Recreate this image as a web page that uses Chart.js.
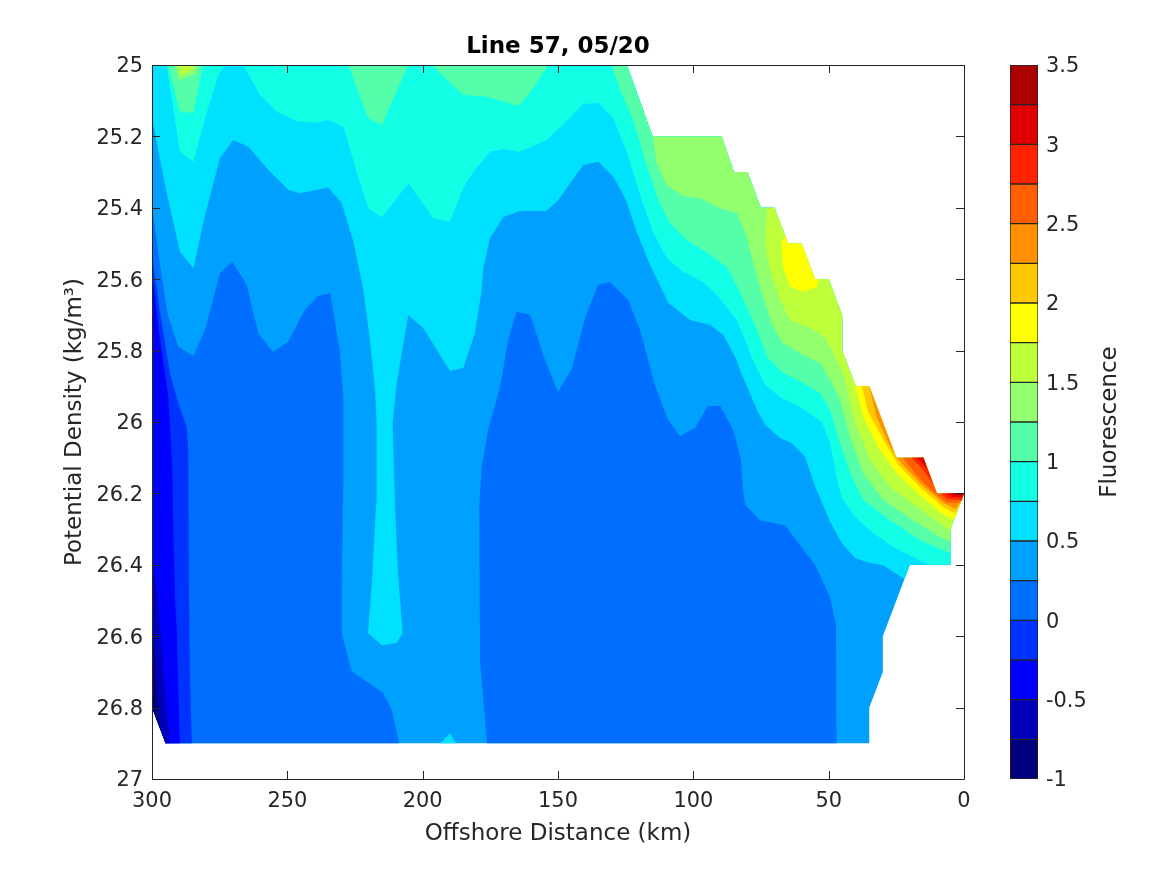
<!DOCTYPE html>
<html>
<head>
<meta charset="utf-8">
<style>
html,body{margin:0;padding:0;background:#fff;width:1167px;height:875px;overflow:hidden}
canvas{position:absolute;left:0;top:0}
</style>
<script src="https://cdn.jsdelivr.net/npm/chart.js@4"></script>
</head>
<body>
<canvas id="main" width="1167" height="875"></canvas>
<canvas id="bar" width="1167" height="875"></canvas>
<script>
const titleText = 'Line 57, 05/20';
const xLabel = 'Offshore Distance (km)';
const yLabel = 'Potential Density (kg/m³)';
const cbLabel = 'Fluorescence';
const xTicks = [300,250,200,150,100,50,0];
const yTicks = [25,25.2,25.4,25.6,25.8,26,26.2,26.4,26.6,26.8,27];
const cbTicks = [-1,-0.5,0,0.5,1,1.5,2,2.5,3,3.5];
const levels = [-1,-0.75,-0.5,-0.25,0,0.25,0.5,0.75,1,1.25,1.5,1.75,2,2.25,2.5,2.75,3,3.25,3.5];
const bandColors = ['#00007f','#0000bb','#0000ff','#0032ff','#006eff','#00a0ff','#00e1ff','#12ffe6','#55ffaa','#91ff6e','#beff3c','#ffff00','#ffc800','#ff9100','#ff5f00','#ff2300','#e10000','#aa0000'];

// Outer edge of the sampled section, (km, density)
const shelf = [[5,26.3],[0.9,26.22],[0,26.2],[10,26.2],[15,26.1],[25,26.1],[35,25.9],[40,25.9],[45,25.8],[45,25.7],[50,25.6],[55,25.6],[60,25.5],[65,25.5],[70,25.4],[75,25.4],[80,25.3],[85,25.3],[89.5,25.2],[115,25.2],[124.5,25]];
const hull = [[300,25],[124.5,25],[115,25.2],[89.5,25.2],[85,25.3],[80,25.3],[75,25.4],[70,25.4],[65,25.5],[60,25.5],[55,25.6],[50,25.6],[45,25.7],[45,25.8],[40,25.9],[35,25.9],[25,26.1],[15,26.1],[10,26.2],[0,26.2],[0.9,26.22],[5,26.3],[5,26.4],[20,26.4],[30,26.6],[30,26.7],[35,26.8],[35,26.9],[295,26.9],[300,26.8]];

// Contour outlines, (km, density)
const lowLeftBlob = [[300,25.398],[296.4,25.593],[294,25.705],[290.3,25.789],[284.7,25.815],[280.4,25.742],[274.9,25.583],[270.3,25.551],[265,25.616],[260.7,25.752],[255.3,25.804],[249.8,25.776],[243.5,25.686],[238.7,25.647],[234.2,25.639],[230.5,25.807],[229.3,25.93],[229.3,26.154],[229.9,26.471],[229.9,26.591],[226.2,26.699],[220.7,26.727],[214.5,26.76],[211.4,26.807],[208.7,26.9],[295,26.9],[300,26.8]];
const lowMidBlob = [[178.8,26.667],[179.1,26.237],[178.2,26.125],[175.8,26.022],[171.4,25.901],[168.4,25.77],[165.3,25.691],[160.3,25.7],[154.8,25.826],[150,25.916],[144.8,25.849],[140,25.709],[135.2,25.616],[130.8,25.608],[124.1,25.658],[119.7,25.742],[114.2,25.896],[109.4,25.994],[104.9,26.039],[99.4,26.017],[94.6,25.955],[90.1,25.955],[85.3,26.022],[82.4,26.106],[81.6,26.19],[80.9,26.232],[75.4,26.275],[66.1,26.289],[60.6,26.345],[55,26.401],[49.5,26.49],[47.3,26.569],[47.1,26.9],[176.2,26.9]];
const edgeBelow0 = [[300,25.532],[297,25.695],[293.4,25.863],[290.3,25.947],[287.2,26.014],[286.6,26.078],[286.3,26.499],[286,26.574],[286,26.695],[285.3,26.9],[295,26.9],[300,26.8]];
const edgeBelowM25 = [[300,25.58],[297,25.77],[294,25.93],[292.5,26.126],[292.1,26.311],[291.5,26.499],[290.9,26.574],[290.3,26.759],[289.7,26.9],[295,26.9],[300,26.8]];
const edgeBelowM50 = [[300,26.401],[298.9,26.434],[297.7,26.499],[296.7,26.611],[295.2,26.759],[293.4,26.9],[295,26.9],[300,26.8]];
const edgeBelowM75 = [[300,26.555],[298.9,26.667],[297.8,26.779],[296.7,26.866],[300,26.8]];

const above50Curve = [[22,26.44],[29.9,26.401],[34.7,26.395],[40.3,26.381],[45.2,26.339],[49.5,26.279],[55,26.181],[58.7,26.097],[63.7,26.059],[68,26.045],[73.5,26.008],[76.5,25.966],[82.8,25.854],[84,25.826],[88.9,25.756],[93.8,25.728],[101.2,25.714],[109.2,25.667],[116,25.56],[120.9,25.468],[125.2,25.373],[129.6,25.313],[135.1,25.271],[140.7,25.28],[149.9,25.378],[154.2,25.409],[164,25.409],[170.2,25.426],[175.1,25.485],[177.6,25.569],[178.2,25.63],[180.7,25.751],[185,25.849],[189.9,25.857],[199.8,25.737],[205.3,25.7],[209.6,25.891],[211.1,26.003],[210.2,26.238],[209.1,26.423],[207.4,26.591],[209.6,26.619],[215.1,26.625],[220.2,26.591],[218.8,26.451],[217.2,26.227],[217,26.003],[217.6,25.91],[219.5,25.77],[222,25.625],[225.6,25.495],[229.9,25.387],[234.9,25.343],[245.3,25.359],[249.6,25.35],[257.6,25.289],[264.4,25.229],[270,25.21],[274.9,25.261],[280.4,25.42],[284.7,25.569],[289.7,25.523],[295.2,25.336],[299.7,25.159],[300,25],[124.5,25]];
const above50Foot = [[193.6,26.9],[189.9,26.872],[187.7,26.9]];
const above75Finger = [[294.6,25],[289.7,25.243],[284.7,25.271],[280.4,25.149],[275.5,25.028],[273,25]];
const above75Curve = [[266.3,25],[260.1,25.084],[253.9,25.131],[246.5,25.157],[239.2,25.162],[234.9,25.154],[229.3,25.173],[224.4,25.299],[220.1,25.401],[215.1,25.427],[205.3,25.331],[196.1,25.429],[189.9,25.439],[185,25.345],[181.3,25.299],[175.1,25.243],[170.2,25.235],[164,25.243],[154.2,25.21],[149.3,25.176],[140.7,25.11],[135.2,25.106],[129.7,25.148],[124.6,25.243],[119.7,25.364],[114.9,25.468],[109.8,25.541],[103.7,25.58],[96.4,25.608],[91.3,25.644],[84,25.714],[79.8,25.79],[78,25.826],[73.5,25.896],[68,25.93],[60.6,25.958],[52.5,26],[49.5,26.059],[46.9,26.162],[45.1,26.213],[40.3,26.266],[33.6,26.311],[26.2,26.35],[16.3,26.387],[12.6,26.4],[5,26.4]];
const above100A = [[294.1,25],[289.7,25.132],[284.7,25.134],[281.2,25]];
const above100B = [[227.5,25],[220.1,25.149],[215.1,25.168],[205.3,25]];
const above100C = [[196.2,25],[193.6,25.023],[185,25.084],[176.3,25.089],[164.7,25.114],[161,25.084],[153.6,25]];
const above100Curve = [[130.2,25],[127.1,25.07],[122.2,25.154],[117.9,25.266],[112.9,25.378],[108.6,25.443],[102.5,25.49],[94.6,25.527],[87.6,25.566],[82.8,25.636],[76.5,25.742],[72.8,25.818],[66.9,25.863],[59.5,25.891],[53.2,25.919],[49.5,25.966],[45.8,26.059],[42.1,26.143],[37.3,26.218],[27.3,26.275],[16.3,26.331],[5.2,26.367],[5,26.367]];
const above125Spot = [[291.5,25],[290,25.042],[284.1,25.025],[283,25]];
const above125Curve = [[115,25.2],[113.5,25.275],[109.8,25.336],[103.8,25.367],[97.5,25.373],[90.1,25.401],[83.9,25.415],[80.2,25.482],[79.1,25.518],[75.4,25.622],[70.6,25.734],[66.9,25.779],[59.5,25.812],[53.2,25.835],[48.8,25.891],[45.8,25.938],[42.1,26.042],[37.3,26.143],[29.9,26.218],[18.8,26.275],[8.9,26.322],[5,26.335]];
const above150Spot = [[290.4,25],[289.3,25.028],[285.2,25.014],[284.5,25]];
const above150Curve = [[72.8,25.4],[73.5,25.499],[72.3,25.552],[70.9,25.594],[68,25.658],[64.3,25.714],[56.9,25.737],[51.4,25.762],[48.8,25.798],[44.7,25.863],[44,25.882],[40.3,26.003],[34.7,26.106],[27.3,26.182],[17.4,26.238],[8.9,26.283],[5,26.305]];
const above175Patch = [[66.1,25.478],[65,25.5],[60,25.5],[55,25.6],[53.6,25.6],[54.4,25.622],[59.4,25.635],[64.3,25.621],[66.8,25.565],[67.4,25.499]];
const above175Curve = [[40.9,25.882],[37.2,25.986],[31.7,26.07],[24.9,26.143],[16.3,26.205],[8.9,26.252],[4,26.275]];
const above200Curve = [[37.8,25.9],[35.4,25.972],[30.4,26.042],[24.3,26.12],[16.3,26.182],[7.8,26.238],[3.3,26.256]];
const above225Curve = [[35,25.9],[32.3,25.986],[28,26.059],[24.3,26.106],[16.3,26.171],[7.8,26.227],[3,26.244]];
const above250Curve = [[22.5,26.1],[17.7,26.148],[12.6,26.188],[6.7,26.224],[2.2,26.227]];
const above275Upper = [[19.3,26.1],[15.1,26.134],[11.3,26.174],[15,26.1]];
const above275Lower = [[8.5,26.2],[5.9,26.216],[1.5,26.218],[0.9,26.22],[0,26.2]];
const above300Upper = [[17.4,26.1],[13.7,26.129],[15,26.1]];
const above300Lower = [[6.7,26.2],[4.4,26.21],[0.7,26.21],[0,26.2]];
const above325Lower = [[5.2,26.2],[4.1,26.204],[0.4,26.204],[0,26.2]];

// Painter's order: [band index, outline]
const layers = [
  [5, hull],
  [4, lowLeftBlob],[4, lowMidBlob],
  [3, edgeBelow0],[2, edgeBelowM25],[1, edgeBelowM50],[0, edgeBelowM75],
  [6, above50Curve.concat(shelf.slice(0,20).reverse(),[[5,26.4],[20,26.4]])],
  [6, above50Foot],
  [7, above75Finger],
  [7, above75Curve.concat(shelf)],
  [8, above100A],[8, above100B],[8, above100C],
  [8, above100Curve.concat(shelf)],
  [9, above125Spot],
  [9, above125Curve.concat(shelf.slice(0,19))],
  [10, above150Spot],
  [10, above150Curve.concat(shelf.slice(0,15))],
  [11, above175Patch],
  [11, above175Curve.concat(shelf.slice(1,8))],
  [12, above200Curve.concat(shelf.slice(1,7))],
  [13, above225Curve.concat(shelf.slice(1,6))],
  [14, above250Curve.concat(shelf.slice(1,5))],
  [15, above275Upper],[15, above275Lower],
  [16, above300Upper],[16, above300Lower],
  [17, above325Lower]
];

const INK = '#262626';
const FONT = 'DejaVu Sans';
const TICK_SIZE = 20.9;
const LABEL_SIZE = 23;

const boxTicks = {
  id:'boxTicks',
  afterDraw(c){
    const {ctx,chartArea:a,scales:{x,y}} = c, len = 8;
    ctx.save();
    ctx.strokeStyle = INK; ctx.lineWidth = 1;
    ctx.beginPath();
    xTicks.forEach(v=>{const p=Math.round(x.getPixelForValue(v))+0.5;
      ctx.moveTo(p,a.top);ctx.lineTo(p,a.top+len);
      ctx.moveTo(p,a.bottom);ctx.lineTo(p,a.bottom-len);});
    yTicks.forEach(v=>{const p=Math.round(y.getPixelForValue(v))+0.5;
      ctx.moveTo(a.left,p);ctx.lineTo(a.left+len,p);
      ctx.moveTo(a.right,p);ctx.lineTo(a.right-len,p);});
    ctx.rect(a.left+0.5,a.top+0.5,a.right-a.left,a.bottom-a.top);
    ctx.stroke();
    ctx.restore();
  }
};

new Chart(document.getElementById('main'),{
  type:'scatter',
  data:{datasets:layers.map(([band,poly],i)=>({
    data:poly.map(([x,y])=>({x,y})),
    showLine:true,tension:0,pointRadius:0,pointHoverRadius:0,borderWidth:0,
    backgroundColor:bandColors[band],fill:'shape',order:-i
  }))},
  options:{
    responsive:false,animation:false,devicePixelRatio:1,
    events:[],
    layout:{padding:{left:0,right:203,top:0,bottom:0}},
    plugins:{
      legend:{display:false},tooltip:{enabled:false},
      title:{display:true,text:titleText,fullSize:false,color:'#000',
        font:{family:FONT,size:LABEL_SIZE,weight:'bold',lineHeight:1.2},
        padding:{top:33,bottom:4.4}}
    },
    scales:{
      x:{type:'linear',reverse:true,min:0,max:300,
        grid:{display:false},border:{display:false},
        afterBuildTicks(s){s.ticks=xTicks.map(value=>({value}));},
        afterFit(s){s.height=96;},
        ticks:{color:INK,maxRotation:0,padding:2,font:{family:FONT,size:TICK_SIZE},autoSkip:false,callback:v=>String(v)},
        title:{display:true,text:xLabel,color:INK,font:{family:FONT,size:LABEL_SIZE},padding:{top:0,bottom:27}}},
      y:{type:'linear',reverse:true,min:25,max:27,
        grid:{display:false},border:{display:false},
        afterBuildTicks(s){s.ticks=yTicks.map(value=>({value}));},
        afterFit(s){s.width=152;},
        ticks:{color:INK,padding:1,labelOffset:2,font:{family:FONT,size:TICK_SIZE},autoSkip:false,callback:v=>String(+(+v).toFixed(1))},
        title:{display:true,text:yLabel,color:INK,font:{family:FONT,size:LABEL_SIZE},padding:{top:61,bottom:0}}}
    }
  },
  plugins:[boxTicks]
});

const cbTitle = {
  id:'cbTitle',
  afterDraw(c){
    const {ctx,chartArea:a} = c;
    ctx.save();
    ctx.translate(1110,(a.top+a.bottom)/2);
    ctx.rotate(-Math.PI/2);
    ctx.fillStyle = INK;
    ctx.font = LABEL_SIZE+'px "'+FONT+'"';
    ctx.textAlign='center';ctx.textBaseline='middle';
    ctx.fillText(cbLabel,0,0);
    ctx.restore();
  }
};

new Chart(document.getElementById('bar'),{
  type:'bar',
  data:{labels:[''],datasets:bandColors.map((color,i)=>({
    data:[[levels[i],levels[i+1]]],
    backgroundColor:color,borderColor:INK,borderWidth:1,borderSkipped:false,
    barPercentage:1,categoryPercentage:1,grouped:false
  }))},
  options:{
    responsive:false,animation:false,devicePixelRatio:1,events:[],
    layout:{padding:{left:1010,right:0,top:65,bottom:96}},
    plugins:{legend:{display:false},tooltip:{enabled:false},title:{display:false}},
    scales:{
      x:{display:false,grid:{display:false}},
      y:{type:'linear',position:'right',min:-1,max:3.5,
        grid:{display:false},border:{display:false},
        afterBuildTicks(s){s.ticks=cbTicks.map(value=>({value}));},
        afterFit(s){s.width=129;},
        ticks:{color:INK,padding:0,labelOffset:2,font:{family:FONT,size:TICK_SIZE},autoSkip:false,callback:v=>String(v)}}
    }
  },
  plugins:[cbTitle]
});
</script>
</body>
</html>
